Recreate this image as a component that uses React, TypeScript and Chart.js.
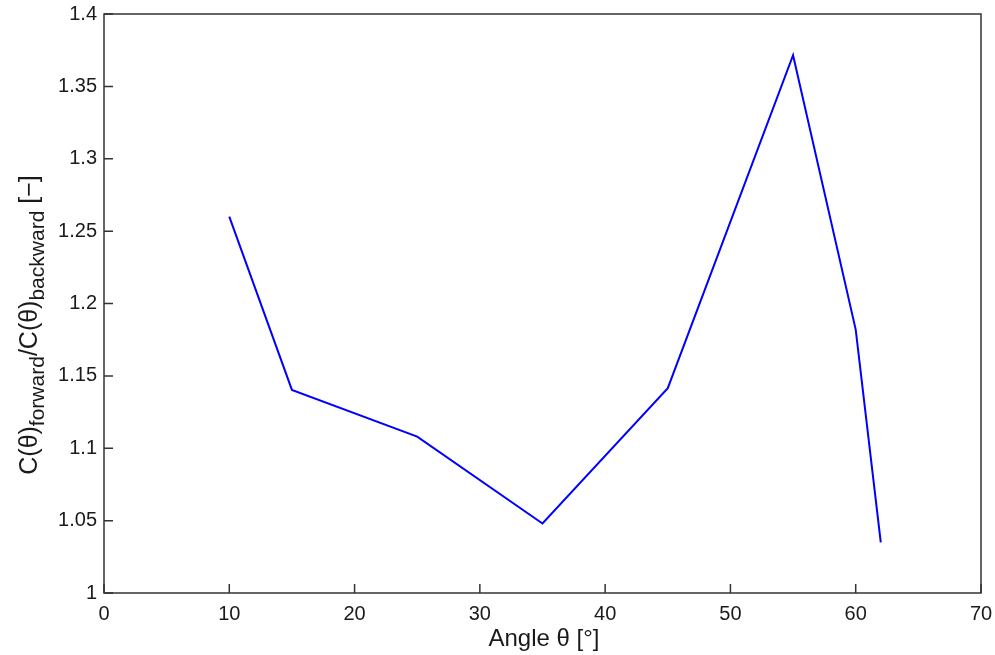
import React, { useEffect, useRef } from "react";
import { Chart, registerables } from "chart.js";

Chart.register(...registerables);

const angles = [10, 15, 25, 35, 45, 55, 60, 62];
const ratios = [1.26, 1.1403, 1.108, 1.048, 1.1415, 1.3715, 1.182, 1.035];
const xTicks = [0, 10, 20, 30, 40, 50, 60, 70];
const yTicks = [1, 1.05, 1.1, 1.15, 1.2, 1.25, 1.3, 1.35, 1.4];

const FONT = "'Liberation Sans', Arial, Helvetica, sans-serif";
const TEXT = "#1a1a1a";
const AXIS = "#333333";

const framePlugin = {
  id: "frame",
  afterDraw(chart: any) {
    const { ctx, chartArea } = chart;
    const { left, right, top, bottom } = chartArea;
    const xs = chart.scales.x;
    const ys = chart.scales.y;
    ctx.save();
    ctx.strokeStyle = AXIS;
    ctx.lineWidth = 1.5;
    ctx.strokeRect(left, top, right - left, bottom - top);
    ctx.beginPath();
    for (const v of xTicks) {
      const px = xs.getPixelForValue(v);
      ctx.moveTo(px, bottom);
      ctx.lineTo(px, bottom - 9);
    }
    for (const v of yTicks) {
      const py = ys.getPixelForValue(v);
      ctx.moveTo(left, py);
      ctx.lineTo(left + 9, py);
    }
    ctx.stroke();

    // x title
    ctx.fillStyle = TEXT;
    ctx.font = `24px ${FONT}`;
    ctx.textAlign = "center";
    ctx.textBaseline = "alphabetic";
    ctx.fillText("Angle θ [°]", 544, 646);

    // y title with subscripts
    const parts: [string, boolean][] = [
      ["C(θ)", false],
      ["forward", true],
      ["/C(θ)", false],
      ["backward", true],
      [" [−]", false],
    ];
    const mainFont = `25px ${FONT}`;
    const subFont = `21px ${FONT}`;
    let total = 0;
    const widths: number[] = [];
    for (const [t, sub] of parts) {
      ctx.font = sub ? subFont : mainFont;
      const w = ctx.measureText(t).width;
      widths.push(w);
      total += w;
    }
    ctx.translate(37, 325);
    ctx.rotate(-Math.PI / 2);
    ctx.textAlign = "left";
    let cx = -total / 2;
    parts.forEach(([t, sub], i) => {
      ctx.font = sub ? subFont : mainFont;
      ctx.fillText(t, cx, sub ? 7 : 0);
      cx += widths[i];
    });
    ctx.restore();
  },
};

export default function App() {
  const ref = useRef<HTMLCanvasElement>(null);
  useEffect(() => {
    if (!ref.current) return;
    const chart = new Chart(ref.current, {
      type: "line",
      data: {
        datasets: [
          {
            data: angles.map((a, i) => ({ x: a, y: ratios[i] })),
            borderColor: "#0000ff",
            borderWidth: 2,
            pointRadius: 0,
            fill: false,
            tension: 0,
          },
        ],
      },
      options: {
        animation: false,
        responsive: false,
        maintainAspectRatio: false,
        layout: { padding: { left: 0, top: 14, right: 14, bottom: 0 } },
        plugins: { legend: { display: false }, tooltip: { enabled: false } },
        scales: {
          x: {
            type: "linear",
            min: 0,
            max: 70,
            afterFit: (s: any) => {
              s.height = 62;
              s.paddingRight = 0;
              s.paddingLeft = 0;
            },
            afterBuildTicks: (s: any) => {
              s.ticks = xTicks.map((v) => ({ value: v }));
            },
            grid: { display: false, drawTicks: false },
            border: { display: false },
            ticks: {
              padding: 9,
              color: TEXT,
              font: { family: FONT, size: 20 },
              callback: (v: any) => String(v),
              maxRotation: 0,
            },
          },
          y: {
            type: "linear",
            min: 1,
            max: 1.4,
            afterFit: (s: any) => {
              s.width = 104;
              s.paddingTop = 0;
              s.paddingBottom = 0;
            },
            afterBuildTicks: (s: any) => {
              s.ticks = yTicks.map((v) => ({ value: v }));
            },
            grid: { display: false, drawTicks: false },
            border: { display: false },
            ticks: {
              padding: 7,
              color: TEXT,
              font: { family: FONT, size: 20 },
              callback: (v: any) => String(Number(Number(v).toFixed(2))),
            },
          },
        },
      },
      plugins: [framePlugin],
    });
    return () => chart.destroy();
  }, []);
  return (
    <div style={{ position: "fixed", left: 0, top: 0, width: 995, height: 655, background: "#fff" }}>
      <canvas ref={ref} width={995} height={655} style={{ display: "block" }} />
    </div>
  );
}
